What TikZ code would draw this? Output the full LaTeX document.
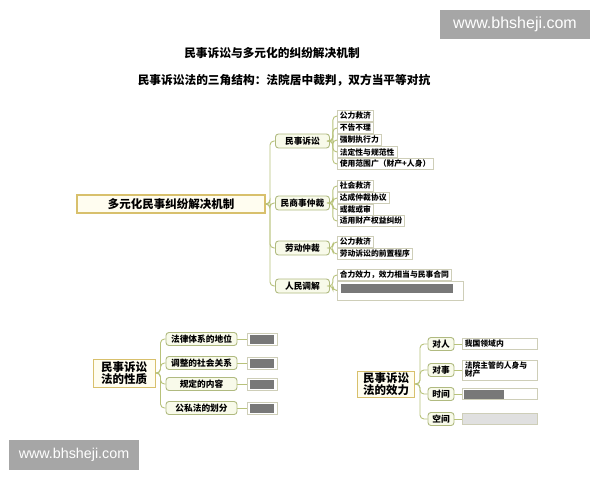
\documentclass[tikz,border=0pt]{standalone}
\usepackage{fontspec}
\setmainfont{Noto Sans CJK SC}
\newfontfamily\wmfont{Liberation Sans}
\usetikzlibrary{calc}

\definecolor{linkc}{RGB}{184,194,122}
\definecolor{catedge}{RGB}{176,186,128}
\definecolor{catfill}{RGB}{248,250,234}
\definecolor{leafedge}{RGB}{206,206,184}
\definecolor{mainedge}{RGB}{216,192,108}
\definecolor{mainfill}{RGB}{255,253,240}
\definecolor{wmgray}{RGB}{166,166,166}
\definecolor{blurc}{RGB}{120,120,120}

\tikzset{
  mainbox/.style={draw=mainedge,fill=mainfill,line width=1.2pt,minimum width=188pt,
    minimum height=18pt,inner sep=0pt,font=\fontsize{11.5}{13}\selectfont\bfseries},
  catbox/.style={draw=catedge,fill=catfill,line width=0.9pt,rounded corners=3pt,
    minimum width=54pt,minimum height=14pt,inner sep=0pt,anchor=west,
    font=\fontsize{8.7}{9}\selectfont\bfseries},
  leafbox/.style={draw=leafedge,fill=white,line width=0.6pt,minimum height=11pt,
    inner xsep=2.5pt,inner ysep=0pt,anchor=west,font=\fontsize{7.8}{8}\selectfont\bfseries},
  bigbox/.style={draw=mainedge,fill=mainfill,line width=1pt,inner xsep=3pt,inner ysep=1pt,
    align=center,font=\fontsize{11.5}{12.5}\selectfont\bfseries},
  subbox/.style={catbox,minimum height=13pt,font=\fontsize{8.7}{9}\selectfont\bfseries},
  blur/.style={fill=blurc,draw=none,minimum height=9pt,inner sep=0pt,anchor=west},
  link/.style={draw=linkc,line width=0.9pt,rounded corners=4pt},
  title/.style={font=\fontsize{11.7}{13}\selectfont\bfseries},
  wm/.style={fill=wmgray,text=white,inner sep=0pt}
}

\begin{document}
\begin{tikzpicture}[x=1pt,y=-1pt]
  \useasboundingbox (0,0) rectangle (600,480);
  \fill[white] (0,0) rectangle (600,480);
  % titles
  \node[title] (t1) at (272,53) {民事诉讼与多元化的纠纷解决机制};
  \node[title] (t2) at (284,80) {民事诉讼法的三角结构：法院居中裁判，双方当平等对抗};
  % main tree
  \node[mainbox] (main) at (171,204) {多元化民事纠纷解决机制};
  \node[catbox] (ms) at (275,141) {民事诉讼};
  \node[catbox] (zc) at (275,203) {民商事仲裁};
  \node[catbox] (ld) at (275,248) {劳动仲裁};
  \node[catbox] (tj) at (275,286) {人民调解};
  \coordinate (trunk) at (270,204);
  \foreach \c in {ms,zc,ld,tj}
    \draw[link] (main.east) -- (trunk) |- (\c.west);
  % leaves of 民事诉讼
  \node[leafbox] (ms1) at (337,116) {公力救济};
  \node[leafbox] (ms2) at (337,128) {不告不理};
  \node[leafbox] (ms3) at (337,140) {强制执行力};
  \node[leafbox] (ms4) at (337,152) {法定性与规范性};
  \node[leafbox] (ms5) at (337,164) {使用范围广（财产+人身）};
  \foreach \l in {ms1,ms2,ms3,ms4,ms5}
    \draw[link] (ms.east) -- ++(3,0) |- (\l.west);
  % leaves of 民商事仲裁
  \node[leafbox] (zc1) at (337,186) {社会救济};
  \node[leafbox] (zc2) at (337,198) {达成仲裁协议};
  \node[leafbox] (zc3) at (337,209.5) {或裁或审};
  \node[leafbox] (zc4) at (337,221) {适用财产权益纠纷};
  \foreach \l in {zc1,zc2,zc3,zc4}
    \draw[link] (zc.east) -- ++(3,0) |- (\l.west);
  % leaves of 劳动仲裁
  \node[leafbox] (ld1) at (337,242) {公力救济};
  \node[leafbox] (ld2) at (337,254) {劳动诉讼的前置程序};
  \foreach \l in {ld1,ld2}
    \draw[link] (ld.east) -- ++(3,0) |- (\l.west);
  % leaves of 人民调解
  \node[leafbox] (tj1) at (337,275) {合力效力，效力相当与民事合同};
  \node[leafbox,minimum width=126pt,minimum height=19pt] (tj2) at (337,290.5) {};
  \node[blur,minimum width=112pt] (tjb) at ($(tj2.west)+(4,-2)$) {};
  \foreach \l in {tj1,tj2}
    \draw[link] (tj.east) -- ++(3,0) |- (\l.west);

  % 民事诉讼法的性质
  \node[bigbox,minimum width=62pt,minimum height=28pt] (xz) at (124,373) {民事诉讼\\法的性质};
  \node[subbox,anchor=center,minimum width=71pt] (xz1) at (201.5,339) {法律体系的地位};
  \node[subbox,anchor=center,minimum width=71pt] (xz2) at (201.5,363) {调整的社会关系};
  \node[subbox,anchor=center,minimum width=71pt] (xz3) at (201.5,384) {规定的内容};
  \node[subbox,anchor=center,minimum width=71pt] (xz4) at (201.5,408) {公私法的划分};
  \foreach \i in {1,...,4} {
    \draw[link] (xz.east) -- ++(5,0) |- (xz\i.west);
    \node[leafbox,minimum width=30pt,minimum height=12pt] (xb\i) at ($(xz\i.east)+(10,0)$) {};
    \node[blur,minimum width=24pt] at ($(xb\i.west)+(2,0)$) {};
    \draw[link] (xz\i.east) -- (xb\i.west);
  }

  % 民事诉讼法的效力
  \node[bigbox,minimum width=57pt,minimum height=26pt] (xl) at (386,384) {民事诉讼\\法的效力};
  \node[subbox,anchor=center,minimum width=26pt] (xl1) at (441,344) {对人};
  \node[subbox,anchor=center,minimum width=26pt] (xl2) at (441,370) {对事};
  \node[subbox,anchor=center,minimum width=26pt] (xl3) at (441,394) {时间};
  \node[subbox,anchor=center,minimum width=26pt] (xl4) at (441,419) {空间};
  \node[leafbox,text width=70pt] (xv1) at (462,344) {我国领域内};
  \node[leafbox,text width=70pt,minimum height=20pt,align=left,
    font=\fontsize{7.8}{8}\selectfont\bfseries] (xv2) at (462,370) {法院主管的人身与\\财产};
  \node[leafbox,text width=70pt] (xv3) at (462,394) {};
  \node[blur,minimum width=40pt] at ($(xv3.west)+(2,0)$) {};
  \node[leafbox,text width=70pt,fill=black!12] (xv4) at (462,419) {};
  \foreach \i in {1,...,4} {
    \draw[link] (xl.east) -- ++(5,0) |- (xl\i.west);
    \draw[link] (xl\i.east) -- (xv\i.west);
  }

  % watermarks
  \node[wm,minimum width=150pt,minimum height=29pt,font=\wmfont\fontsize{16}{18}\selectfont] (wm1) at (515,24.5) {www.bhsheji.com};
  \node[wm,minimum width=130pt,minimum height=30pt,font=\wmfont\fontsize{14.3}{16}\selectfont] (wm2) at (74,455) {www.bhsheji.com};
\end{tikzpicture}
\end{document}
